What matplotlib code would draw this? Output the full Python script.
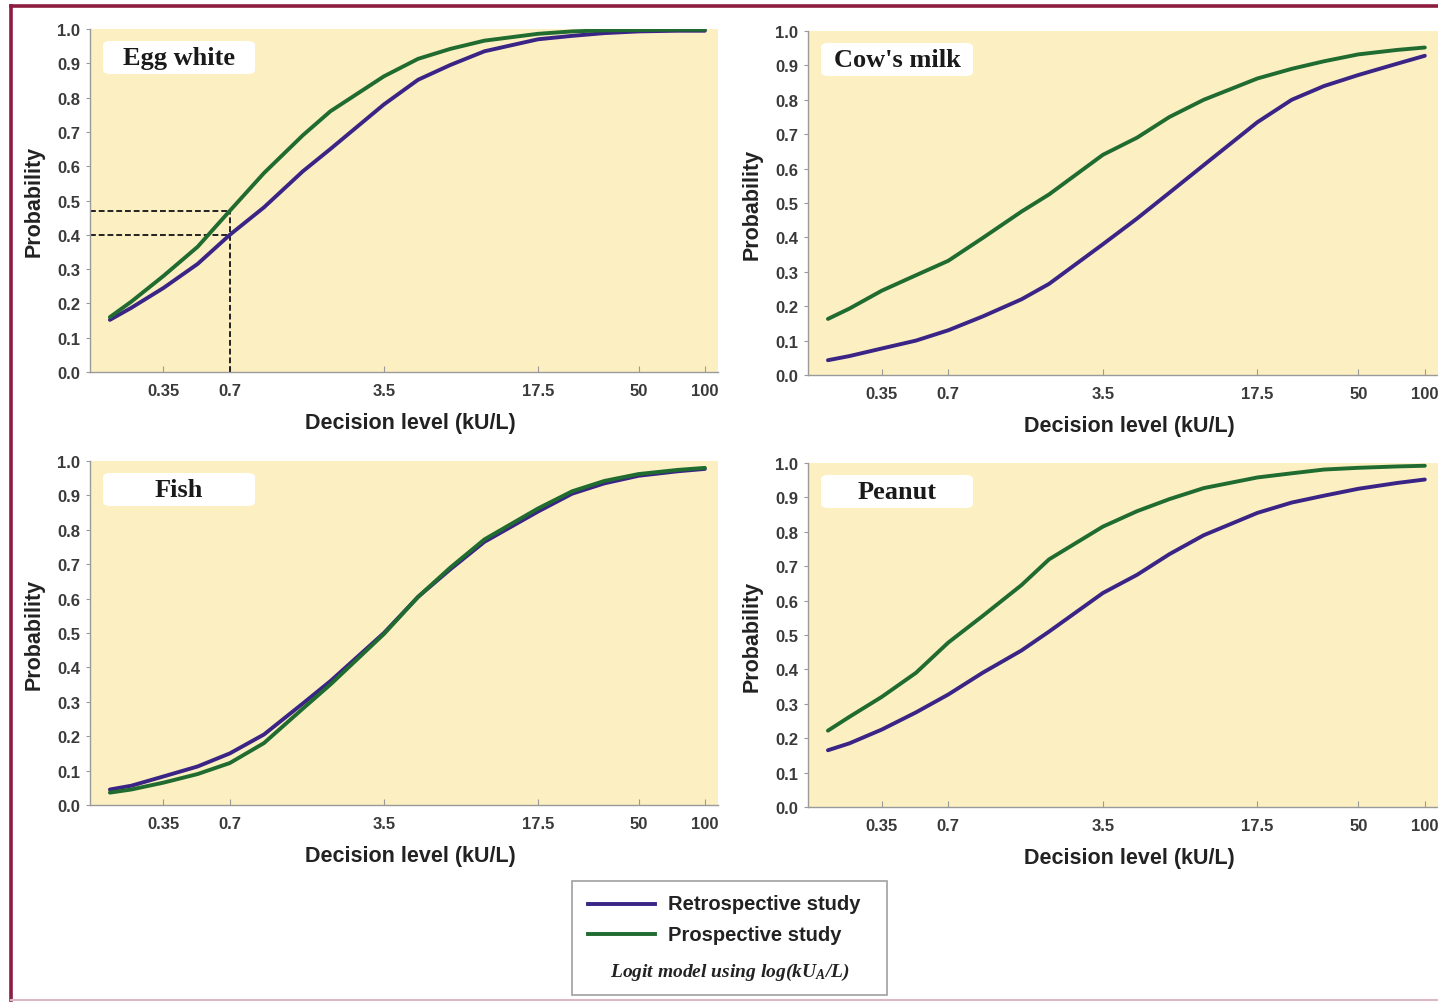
import numpy as np
import matplotlib
matplotlib.use('Agg')
import matplotlib.pyplot as plt
from matplotlib.patches import FancyBboxPatch, Rectangle
from matplotlib.lines import Line2D
from matplotlib.ticker import FixedLocator, NullLocator

# Fonts
plt.rcParams['font.family'] = ['Liberation Sans', 'DejaVu Sans']
plt.rcParams['mathtext.fontset'] = 'custom'
plt.rcParams['mathtext.rm'] = 'Liberation Serif:bold:italic'
plt.rcParams['mathtext.it'] = 'Liberation Serif:bold:italic'

levels = [0.2, 0.25, 0.35, 0.5, 0.7, 1, 1.5, 2, 3.5, 5, 7, 10, 17.5, 25, 35, 50, 75, 100]

## Egg white
egg_retro = [0.152, 0.187, 0.245, 0.315, 0.40, 0.48, 0.585, 0.65, 0.780, 0.852, 0.895, 0.935, 0.970, 0.980, 0.988, 0.993, 0.995, 0.995]
egg_pro = [0.160, 0.205, 0.280, 0.365, 0.47, 0.58, 0.690, 0.76, 0.862, 0.913, 0.942, 0.966, 0.986, 0.993, 0.996, 0.997, 0.998, 0.998]

## Cow's milk
milk_retro = [0.043, 0.055, 0.077, 0.100, 0.130, 0.170, 0.220, 0.265, 0.380, 0.455, 0.530, 0.610, 0.735, 0.800, 0.840, 0.872, 0.905, 0.928]
milk_pro = [0.163, 0.193, 0.245, 0.290, 0.332, 0.398, 0.475, 0.525, 0.640, 0.690, 0.750, 0.800, 0.862, 0.890, 0.912, 0.932, 0.945, 0.952]

## Fish
fish_retro = [0.045, 0.056, 0.083, 0.112, 0.150, 0.205, 0.295, 0.360, 0.500, 0.605, 0.685, 0.765, 0.853, 0.905, 0.935, 0.957, 0.970, 0.977]
fish_pro = [0.036, 0.045, 0.065, 0.090, 0.122, 0.180, 0.280, 0.350, 0.497, 0.605, 0.690, 0.772, 0.862, 0.912, 0.942, 0.962, 0.974, 0.980]

## Peanut
peanut_retro = [0.165, 0.185, 0.225, 0.275, 0.327, 0.390, 0.455, 0.510, 0.622, 0.675, 0.735, 0.790, 0.855, 0.885, 0.905, 0.925, 0.942, 0.952]
peanut_pro = [0.222, 0.262, 0.320, 0.390, 0.478, 0.555, 0.645, 0.720, 0.815, 0.860, 0.895, 0.927, 0.958, 0.970, 0.981, 0.986, 0.990, 0.992]

panel_names = ['Egg white', "Cow's milk", 'Fish', 'Peanut']
retro_series = [egg_retro, milk_retro, fish_retro, peanut_retro]
pro_series = [egg_pro, milk_pro, fish_pro, peanut_pro]

tick_vals = [0.35, 0.7, 3.5, 17.5, 50, 100]
tick_labels = ['0.35', '0.7', '3.5', '17.5', '50', '100']
y_ticks = [i / 10 for i in range(11)]

legend_labels = ['Retrospective study', 'Prospective study']
legend_note = r'Logit model using log(kU$_{A}$/L)'

# Dashed guide on the egg white panel at 0.7 kU/L
guide_x = 0.7
guide_y = [0.47, 0.40]

RETRO_COLOR = '#3a2486'
PRO_COLOR = '#1f6b30'
BG_COLOR = '#fcefc2'

fig = plt.figure(figsize=(14.38, 10.04), dpi=100)
W, H = 1438, 1004

# axes boxes in pixels: left, top, right, bottom
boxes = [(90, 30, 718, 373), (808, 32, 1438, 376),
         (90, 462, 718, 806), (808, 464, 1438, 808)]

for i, (l, t, r, b) in enumerate(boxes):
    ax = fig.add_axes([l / W, 1 - b / H, (r - l) / W, (b - t) / H])
    ax.set_facecolor(BG_COLOR)
    ax.set_xscale('log')
    ax.set_xlim(0.1625, 114.7)
    ax.set_ylim(0, 1.0)

    ax.plot(levels, retro_series[i], color=RETRO_COLOR, lw=2.8,
            solid_capstyle='round', solid_joinstyle='round', zorder=3)
    ax.plot(levels, pro_series[i], color=PRO_COLOR, lw=2.8,
            solid_capstyle='round', solid_joinstyle='round', zorder=3)

    if i == 0:
        for gy in guide_y:
            ax.plot([0.1625, guide_x], [gy, gy], color='#222222', lw=1.4, ls=(0, (3, 1.5)), zorder=2)
        ax.plot([guide_x, guide_x], [0, max(guide_y)], color='#222222', lw=1.4, ls=(0, (3, 1.5)), zorder=2)

    for side in ['top', 'right']:
        ax.spines[side].set_visible(False)
    for side in ['left', 'bottom']:
        ax.spines[side].set_color('#9a9a9a')
        ax.spines[side].set_linewidth(1.0)

    ax.xaxis.set_major_locator(FixedLocator(tick_vals))
    ax.xaxis.set_minor_locator(NullLocator())
    ax.set_xticklabels(tick_labels)
    ax.set_yticks(y_ticks)
    ax.set_yticklabels([f'{v:.1f}' for v in y_ticks])
    ax.tick_params(axis='x', direction='in', length=4, color='#9a9a9a', pad=8,
                   labelsize=12, labelcolor='#3a3a3a')
    ax.tick_params(axis='y', direction='out', length=3, color='#9a9a9a', pad=4,
                   labelsize=12, labelcolor='#3a3a3a')
    for lab in ax.get_xticklabels() + ax.get_yticklabels():
        lab.set_fontweight('bold')

    ax.set_xlabel('Decision level (kU/L)', fontsize=15.5, fontweight='bold', color='#222222')
    ax.xaxis.set_label_coords(0.51, -40 / (b - t))
    ax.set_ylabel('Probability', fontsize=15.5, fontweight='bold', color='#222222')
    ax.yaxis.set_label_coords(-45 / (r - l), 0.5)

    # food name box
    bw = 152 / (r - l)
    bh = 33 / (b - t)
    bx = 13 / (r - l)
    by = 1 - 45 / (b - t)
    box = FancyBboxPatch((bx, by), bw, bh, boxstyle='round,pad=0,rounding_size=0.012',
                         transform=ax.transAxes, facecolor='white', edgecolor='none', zorder=4)
    ax.add_patch(box)
    ax.text(bx + bw / 2, by + bh / 2, panel_names[i], transform=ax.transAxes,
            ha='center', va='center', fontsize=19, fontweight='bold',
            family=['Liberation Serif', 'DejaVu Serif'], color='#1a1a1a', zorder=5)

# Legend box
lax = fig.add_axes([572 / W, 1 - 996 / H, 315 / W, 114 / H])
lax.set_xlim(0, 1)
lax.set_ylim(0, 1)
lax.axis('off')
lax.add_patch(Rectangle((0, 0), 1, 1, transform=lax.transAxes, facecolor='white',
                        edgecolor='#a0a0a0', lw=1.2, clip_on=False))
for y_pos, color, label in zip([0.80, 0.535], [RETRO_COLOR, PRO_COLOR], legend_labels):
    lax.plot([0.051, 0.263], [y_pos, y_pos], color=color, lw=2.8)
    lax.text(0.305, y_pos, label, ha='left', va='center', fontsize=14.5,
             fontweight='bold', color='#222222')
lax.text(0.5, 0.21, legend_note, ha='center', va='center', fontsize=14,
         family=['Liberation Serif', 'DejaVu Serif'], style='italic',
         fontweight='bold', color='#222222')

# Maroon frame round the figure
frame_color = '#8c1d40'
fig.add_artist(Line2D([11 / W, 11 / W], [1 - 1001 / H, 1 - 7 / H], color=frame_color, lw=2.6))
fig.add_artist(Line2D([11 / W, 1.0], [1 - 7 / H, 1 - 7 / H], color=frame_color, lw=2.6))
fig.add_artist(Line2D([11 / W, 1.0], [1 - 1001 / H, 1 - 1001 / H], color='#dcb8c4', lw=1.5))

fig.savefig('out.png', dpi=100)
